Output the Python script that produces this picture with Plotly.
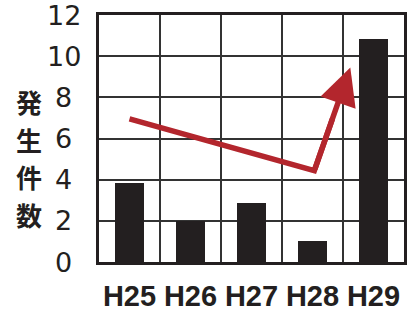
import plotly.graph_objects as go

# ---- data ----
categories = ["H25", "H26", "H27", "H28", "H29"]
counts = [3.85, 2, 2.85, 1, 10.85]
y_ticks = [0, 2, 4, 6, 8, 10, 12]
y_tick_labels = ["0", "2", "4", "6", "8", "10", "12"]
y_title_chars = ["発", "生", "件", "数"]
# trend arrow (start, trough, tip) in data units
trend_x = [0, 3.03, 3.62]
trend_y = [6.95, 4.44, 9.45]

RED = "#B3262D"
INK = "#231F20"

W, H = 412, 317
M_L, M_R, M_T, M_B = 99, 5, 15, 52
PW = W - M_L - M_R
PH = H - M_T - M_B

xs = list(range(len(categories)))

fig = go.Figure()
fig.add_trace(go.Bar(x=xs, y=counts, width=0.48, marker=dict(color=INK, line=dict(width=0)),
                     hoverinfo="skip"))

# line part of the trend (start -> trough -> midway to tip)
mid_x = trend_x[1] + 0.5 * (trend_x[2] - trend_x[1])
mid_y = trend_y[1] + 0.5 * (trend_y[2] - trend_y[1])
fig.add_trace(go.Scatter(x=[trend_x[0], trend_x[1], mid_x], y=[trend_y[0], trend_y[1], mid_y],
                         mode="lines", line=dict(color=RED, width=5.5), hoverinfo="skip"))

annotations = []
# arrow head
annotations.append(dict(x=trend_x[2], y=trend_y[2], ax=trend_x[1], ay=trend_y[1],
                        xref="x", yref="y", axref="x", ayref="y", text="",
                        showarrow=True, arrowhead=2, arrowsize=1.35, arrowwidth=5.5,
                        arrowcolor=RED))
# y tick labels (centred)
for v, t in zip(y_ticks, y_tick_labels):
    annotations.append(dict(x=(63.5 - M_L) / PW, y=v, xref="paper", yref="y", text=t,
                            showarrow=False, xanchor="center", yanchor="middle",
                            font=dict(family="DejaVu Sans", size=27, color=INK)))
# vertical y title: one character per line
title_text = "<br>".join(
    "<b><span style='font-size:26px'>%s</span></b>" % ch for ch in y_title_chars)
annotations.append(dict(x=(28 - M_L) / PW, y=1 - (160 - M_T) / PH,
                        xref="paper", yref="paper", text=title_text, showarrow=False,
                        xanchor="center", yanchor="middle", borderpad=0,
                        font=dict(family="Noto Sans CJK JP", size=29, color=INK)))

fig.update_layout(
    width=W, height=H,
    margin=dict(l=M_L, r=M_R, t=M_T, b=M_B, pad=0),
    paper_bgcolor="white", plot_bgcolor="white",
    showlegend=False,
    annotations=annotations,
    bargap=0,
)
fig.update_xaxes(
    range=[-0.5, len(categories) - 0.5],
    tickmode="array", tickvals=xs, ticktext=categories,
    showgrid=False, ticks="", zeroline=False,
    tickfont=dict(family="Liberation Sans", size=29, color=INK, weight="bold"),
    ticklabelstandoff=6,
    showline=True, mirror=True, linewidth=3, linecolor=INK,
    minor=dict(tickmode="array", tickvals=[i + 0.5 for i in xs[:-1]], showgrid=True,
               gridcolor="#333333", gridwidth=1.5, ticks=""),
)
fig.update_yaxes(
    range=[0, 12], tickmode="array", tickvals=y_ticks, showticklabels=False,
    showgrid=True, gridcolor="#333333", gridwidth=1.5, zeroline=False, ticks="",
    showline=True, mirror=True, linewidth=3, linecolor=INK,
)

fig.write_html("out.html", config={"displayModeBar": False},
               post_script="document.body.style.margin='0';document.body.style.overflow='hidden';")
